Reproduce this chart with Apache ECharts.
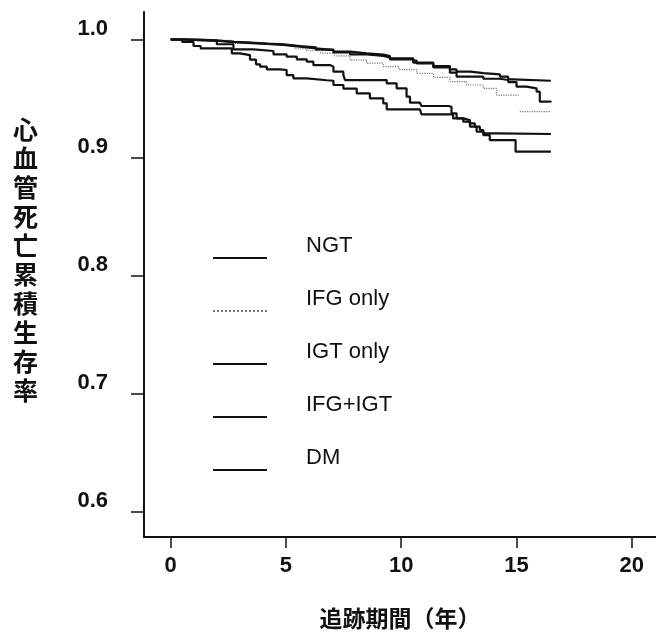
<!DOCTYPE html>
<html><head><meta charset="utf-8">
<script src="https://cdn.jsdelivr.net/npm/echarts@6/dist/echarts.min.js"></script>
<style>html,body{margin:0;padding:0;background:#fff}#c{width:656px;height:634px}</style>
</head><body><div id="c"></div>
<script>
const xTicks = [0, 5, 10, 15, 20];
const yTicks = [0.6, 0.7, 0.8, 0.9, 1.0];
const seriesNames = ['NGT', 'IFG only', 'IGT only', 'IFG+IGT', 'DM'];
const xTitle = '追跡期間（年）';
const yTitle = '心血管死亡累積生存率';

const ngt = [[0,1.0],[0.6,0.9995],[1.28,0.999],[2.0,0.998],[2.72,0.9973],[3.5,0.9966],[4.17,0.9959],[4.89,0.9945],[5.61,0.9934],[6.3,0.9915],[7.06,0.9897],[7.78,0.9883],[8.5,0.9872],[9.22,0.986],[9.51,0.9841],[10.52,0.9821],[10.67,0.9798],[11.39,0.9776],[12.11,0.9747],[12.4,0.9728],[13.0,0.9716],[13.56,0.9705],[14.28,0.9685],[14.64,0.9663],[14.85,0.9651],[16.49,0.9651]];
const ifgOnly = [[0,1.0],[1.0,0.9992],[2.72,0.9968],[4.0,0.9955],[4.89,0.9939],[5.4,0.9922],[5.9,0.9905],[6.5,0.9885],[7.1,0.9862],[7.78,0.9826],[8.5,0.98],[9.22,0.977],[9.9,0.9745],[10.67,0.9714],[11.4,0.968],[12.11,0.9643],[12.83,0.9615],[13.56,0.9587],[14.13,0.953],[15.07,0.9516],[15.1,'-'],[15.14,0.9389],[16.45,0.9389]];
const igtOnly = [[0,1.0],[0.6,0.9995],[1.28,0.999],[2.0,0.998],[2.72,0.997],[3.5,0.9963],[4.17,0.9955],[4.89,0.994],[5.61,0.9925],[6.3,0.991],[7.06,0.9891],[7.78,0.9874],[8.5,0.9862],[9.22,0.9849],[9.51,0.9832],[10.52,0.9804],[11.39,0.9764],[12.11,0.9719],[12.4,0.9685],[13.56,0.9668],[14.28,0.9657],[14.64,0.964],[15.0,0.9601],[15.43,0.9587],[15.87,0.9558],[16.01,0.9474],[16.49,0.9468]];
const ifgIgt = [[0,1.0],[1.28,0.999],[2.0,0.996],[2.72,0.9917],[3.59,0.9903],[4.46,0.9874],[5.03,0.9855],[5.47,0.9832],[5.9,0.9812],[6.19,0.9784],[6.91,0.977],[7.06,0.9728],[7.49,0.9699],[7.56,0.9657],[9.37,0.9629],[9.8,0.9587],[10.23,0.9516],[10.38,0.9465],[10.81,0.946],[10.88,0.9437],[12.04,0.9431],[12.18,0.9375],[12.4,0.9332],[12.69,0.9318],[12.98,0.929],[13.19,0.9262],[13.41,0.9234],[13.56,0.9205],[14.2,0.92],[16.49,0.92]];
const dm = [[0,1.0],[0.5,0.998],[0.99,0.9945],[1.3,0.9925],[2.65,0.9883],[3.0,0.9868],[3.44,0.983],[3.7,0.979],[3.88,0.977],[4.17,0.9747],[4.74,0.9742],[5.03,0.9699],[5.32,0.9671],[5.9,0.9655],[6.77,0.9651],[7.06,0.9615],[7.49,0.9585],[8.07,0.9544],[8.64,0.9502],[9.22,0.946],[9.37,0.9409],[10.81,0.9404],[10.88,0.9366],[12.25,0.9332],[12.69,0.9304],[12.98,0.9262],[13.27,0.9219],[13.56,0.919],[13.84,0.9149],[14.96,0.905],[16.49,0.905]];

const seriesData = [ngt, ifgOnly, igtOnly, ifgIgt, dm];
const black = '#111';

const chart = echarts.init(document.getElementById('c'), null, {renderer: 'canvas'});
chart.setOption({
  animation: false,
  backgroundColor: '#fff',
  grid: {left: 144, right: 0, top: 12, bottom: 97, containLabel: false, outerBoundsMode: 'none'},
  legend: {
    orient: 'vertical', left: 212, top: 234, padding: 0,
    itemWidth: 54, itemHeight: 14, itemGap: 5,
    selectedMode: false,
    data: seriesNames,
    itemStyle: {opacity: 0},
    formatter: n => n + '\n\u00a0',
    textStyle: {fontFamily: 'Liberation Sans', fontSize: 22, color: black, lineHeight: 24, padding: [0, 0, 0, 34]}
  },
  xAxis: {
    type: 'value', min: -1.158, max: 21.05,
    name: xTitle, nameLocation: 'middle', nameGap: 70,
    nameTextStyle: {fontFamily: 'Noto Sans CJK JP', fontSize: 23, fontWeight: 'bold', color: black},
    axisLine: {onZero: false, lineStyle: {color: black, width: 2}},
    axisTick: {show: true, length: 11, customValues: xTicks, lineStyle: {color: black, width: 1.5}},
    axisLabel: {customValues: xTicks, margin: 18, fontFamily: 'Liberation Sans', fontSize: 22, fontWeight: 'bold', color: black},
    splitLine: {show: false}
  },
  yAxis: {
    type: 'value', min: 0.5788, max: 1.0233,
    name: yTitle.split('').join('\n') + '\n\u00a0', nameLocation: 'middle', nameGap: 106, nameRotate: 0,
    nameTextStyle: {fontFamily: 'Noto Sans CJK JP', fontSize: 25, fontWeight: 'bold', color: black, lineHeight: 29},
    axisLine: {onZero: false, lineStyle: {color: black, width: 2}},
    axisTick: {show: true, length: 13, customValues: yTicks, lineStyle: {color: black, width: 1.5}},
    axisLabel: {customValues: yTicks, margin: 36, fontFamily: 'Liberation Sans', fontSize: 22, fontWeight: 'bold', color: black,
      lineHeight: 22, formatter: v => v.toFixed(1) + '\n\u00a0'},
    splitLine: {show: false}
  },
  series: seriesNames.map((n, i) => ({
    name: n, type: 'line', step: 'end', data: seriesData[i],
    symbol: 'none', showSymbol: false, connectNulls: false,
    lineStyle: i === 1 ? {color: '#777', width: 1.2, type: 'dotted'} : {color: black, width: 2.2},
    itemStyle: {color: i === 1 ? '#777' : black}
  }))
});
</script></body></html>
